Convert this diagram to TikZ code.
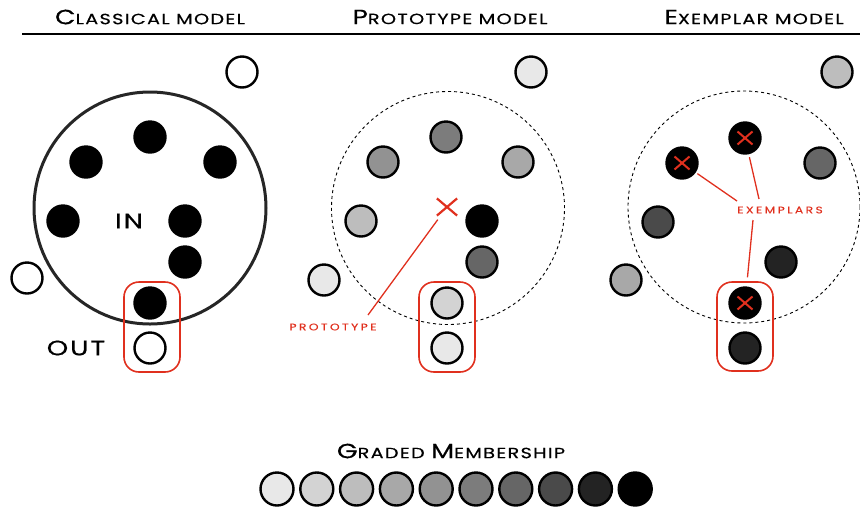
\documentclass[tikz,border=0pt]{standalone}
\usepackage{fontspec}
\setmainfont{Poppins}
\newfontfamily\capfont[FakeStretch=1.3, LetterSpace=9, FakeBold=0.5]{Poppins}
\newfontfamily\lblfont[FakeStretch=1.3, LetterSpace=25, FakeBold=0.3]{Poppins}
\usetikzlibrary{shapes.misc}
% small caps made from two sizes of capitals
\newcommand\capsA[2]{{\capfont\fontsize{20.5}{20.5}\selectfont #1}{\capfont\fontsize{14.8}{14.8}\selectfont #2}}
\newcommand\capsB[1]{{\lblfont\fontsize{9.5}{9.5}\selectfont #1}}
\definecolor{redmark}{HTML}{E0301E}
\definecolor{gA}{HTML}{E8E8E8}
\definecolor{gB}{HTML}{D3D3D3}
\definecolor{gC}{HTML}{BDBDBD}
\definecolor{gD}{HTML}{A8A8A8}
\definecolor{gE}{HTML}{929292}
\definecolor{gF}{HTML}{7C7C7C}
\definecolor{gG}{HTML}{666666}
\definecolor{gH}{HTML}{4A4A4A}
\definecolor{gI}{HTML}{232323}
\definecolor{gJ}{HTML}{000000}
\tikzset{
  dot/.style={circle, draw=black, line width=2.4pt, minimum size=31pt, inner sep=0pt},
  gdot/.style={circle, draw=black, line width=2.4pt, minimum size=33pt, inner sep=0pt},
  title/.style={inner sep=0pt, text=black},
  bigring/.style={draw=black!85, line width=3pt},
  dashring/.style={draw=black, line width=0.9pt, dash pattern=on 3pt off 3pt},
  redbox/.style={draw=redmark, line width=1.6pt, rounded corners=15pt},
  redline/.style={draw=redmark, line width=1.3pt},
  xmark/.style={cross out, draw=redmark, line width=2.2pt, inner sep=0pt},
  redlabel/.style={text=redmark, inner sep=1pt},
  biglabel/.style={inner sep=0pt, font=\capfont\fontsize{21}{21}\selectfont},
}
\begin{document}
\begin{tikzpicture}[x=1pt, y=-1pt]
\useasboundingbox (0,0) rectangle (860,507);

% headers
\node[title] (h1) at (150,17) {\capsA{C}{LASSICAL MODEL}};
\node[title] (h2) at (450,17) {\capsA{P}{ROTOTYPE MODEL}};
\node[title] (h3) at (754,17) {\capsA{E}{XEMPLAR MODEL}};
\coordinate (rl) at (22,34);
\coordinate (rr) at (860,34);
\draw[line width=2pt] (rl) -- (rr);

% ---------- classical model ----------
\node[circle, bigring, minimum size=232pt, inner sep=0pt] (cring) at (150,208) {};
\node[dot, fill=gJ] (c1) at (150,137) {};
\node[dot, fill=gJ] (c2) at (86,162) {};
\node[dot, fill=gJ] (c3) at (220,162) {};
\node[dot, fill=gJ] (c4) at (63,221) {};
\node[dot, fill=gJ] (c5) at (185,221) {};
\node[dot, fill=gJ] (c6) at (185,262) {};
\node[dot, fill=gJ] (c7) at (150,303) {};
\node[dot, fill=white] (c8) at (150,348) {};
\node[dot, fill=white] (c9) at (242,72) {};
\node[dot, fill=white] (c10) at (27,278) {};
\node[biglabel] (inlbl) at (129,221) {IN};
\node[biglabel] (outlbl) at (76,348) {OUT};
\draw[redbox] (124,282) rectangle (180,372);

% ---------- prototype model ----------
\node[circle, dashring, minimum size=233pt, inner sep=0pt] (pring) at (448,208) {};
\node[dot, fill=gA] (p0) at (531,72) {};
\node[dot, fill=gF] (p1) at (446,137) {};
\node[dot, fill=gE] (p2) at (383,162) {};
\node[dot, fill=gD] (p3) at (518,162) {};
\node[dot, fill=gC] (p4) at (361,221) {};
\node[dot, fill=gJ] (p5) at (482,221) {};
\node[dot, fill=gG] (p6) at (482,262) {};
\node[dot, fill=gB] (p7) at (447,303) {};
\node[dot, fill=gA] (p8) at (447,348) {};
\node[dot, fill=gA] (p9) at (324,280) {};
\node[xmark, minimum width=18pt, minimum height=15pt] (px) at (447,207) {};
\node[redlabel] (plbl) at (333,327) {\capsB{PROTOTYPE}};
\coordinate (pend) at (368,315);
\draw[redline, shorten <=5pt] (px) -- (pend);
\draw[redbox] (419,282) rectangle (475,372);

% ---------- exemplar model ----------
\node[circle, dashring, minimum size=232pt, inner sep=0pt] (ering) at (744,207) {};
\node[dot, fill=gC] (e0) at (837,72) {};
\node[dot, fill=gJ] (e1) at (745,138) {};
\node[dot, fill=gJ] (e2) at (682,163) {};
\node[dot, fill=gG] (e3) at (820,163) {};
\node[dot, fill=gH] (e4) at (658,222) {};
\node[dot, fill=gI] (e5) at (781,262) {};
\node[dot, fill=gD] (e6) at (626,280) {};
\node[dot, fill=gJ] (e7) at (745,303) {};
\node[dot, fill=gI] (e8) at (745,348) {};
\node[xmark, minimum width=13pt, minimum height=11pt, line width=2pt] (ex1) at (e1) {};
\node[xmark, minimum width=13pt, minimum height=11pt, line width=2pt] (ex2) at (e2) {};
\node[xmark, minimum width=13pt, minimum height=11pt, line width=2pt] (ex7) at (e7) {};
\node[redlabel] (elbl) at (780,210) {\capsB{EXEMPLARS}};
\coordinate (ea) at (737,201);
\coordinate (eb) at (759,199);
\coordinate (ec) at (753,220);
\draw[redline, shorten <=2pt] (e2) -- (ea);
\draw[redline, shorten <=3pt] (e1) -- (eb);
\draw[redline, shorten <=9pt] (e7) -- (ec);
\draw[redbox] (717,282) rectangle (773,371);

% ---------- graded membership scale ----------
\node[title] (gt) at (451,451) {\capsA{G}{RADED }\capsA{M}{EMBERSHIP}};
\foreach \c [count=\i from 0] in {gA,gB,gC,gD,gE,gF,gG,gH,gI,gJ}{
  \node[gdot, fill=\c] (s\i) at (277+39.8*\i,489) {};
}
\end{tikzpicture}
\end{document}
